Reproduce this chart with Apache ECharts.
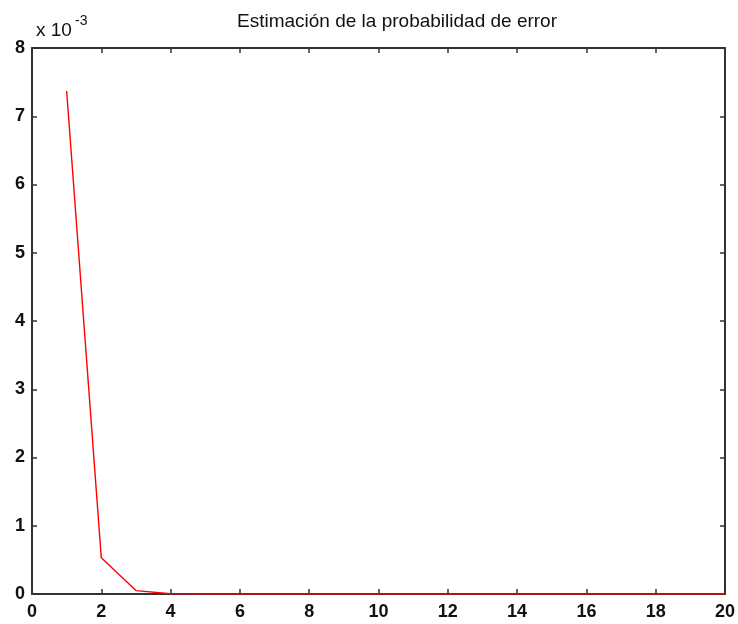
<!DOCTYPE html>
<html><head><meta charset="utf-8">
<script src="https://cdn.jsdelivr.net/npm/echarts@6/dist/echarts.min.js"></script>
<style>html,body{margin:0;padding:0;background:#fff}#c{width:738px;height:624px}</style>
</head><body><div id="c"></div>
<script>
var xValues = [1,2,3,4,5,6,7,8,9,10,11,12,13,14,15,16,17,18,19,20];
var errorProb = [7.37e-3,0.53e-3,0.05e-3,0.003e-3,0,0,0,0,0,0,0,0,0,0,0,0,0,0,0,0];
var xTicks = [0,2,4,6,8,10,12,14,16,18,20];
var yTicks = [0,1,2,3,4,5,6,7,8];

var chart = echarts.init(document.getElementById('c'));
var FF = 'Liberation Sans, Arial';
var lbl = {color:'#111', fontFamily:FF, fontSize:18, fontWeight:'bold'};
var axLine = {show:true, onZero:false, lineStyle:{color:'#333', width:2}};
var tick = {show:true, inside:true, length:5, lineStyle:{color:'#333', width:1.5}};
chart.setOption({
  animation:false,
  backgroundColor:'#fff',
  title:[{text:'Estimación de la probabilidad de error', left:392, top:7, textAlign:'center',
          textStyle:{fontFamily:FF, fontSize:19, fontWeight:'normal', color:'#111'}},
         {text:'x 10', left:31, top:16,
          textStyle:{fontFamily:FF, fontSize:19, fontWeight:'normal', color:'#111'}},
         {text:'-3', left:70, top:9,
          textStyle:{fontFamily:FF, fontSize:14, fontWeight:'normal', color:'#111'}}],
  grid:{left:32, right:12, top:48, bottom:30},
  xAxis:[{type:'value', min:xTicks[0], max:xTicks[xTicks.length-1], interval:2,
          axisLine:axLine, axisTick:tick, splitLine:{show:false},
          axisLabel:Object.assign({margin:9}, lbl)},
         {type:'value', position:'top', min:xTicks[0], max:xTicks[xTicks.length-1], interval:2,
          axisLine:axLine, axisTick:tick, splitLine:{show:false}, axisLabel:{show:false}}],
  yAxis:[{type:'value', min:yTicks[0]*1e-3, max:yTicks[yTicks.length-1]*1e-3, interval:1e-3,
          axisLine:axLine, axisTick:tick, splitLine:{show:false},
          axisLabel:Object.assign({margin:7, formatter:function(v){return String(Math.round(v*1000));}}, lbl)},
         {type:'value', position:'right', min:yTicks[0]*1e-3, max:yTicks[yTicks.length-1]*1e-3, interval:1e-3,
          axisLine:axLine, axisTick:tick, splitLine:{show:false}, axisLabel:{show:false}}],
  series:[{type:'line', data:xValues.map(function(x,i){return [x, errorProb[i]];}),
           showSymbol:false, lineStyle:{color:'#ff0000', width:1.4}, z:5}]
});
</script></body></html>
